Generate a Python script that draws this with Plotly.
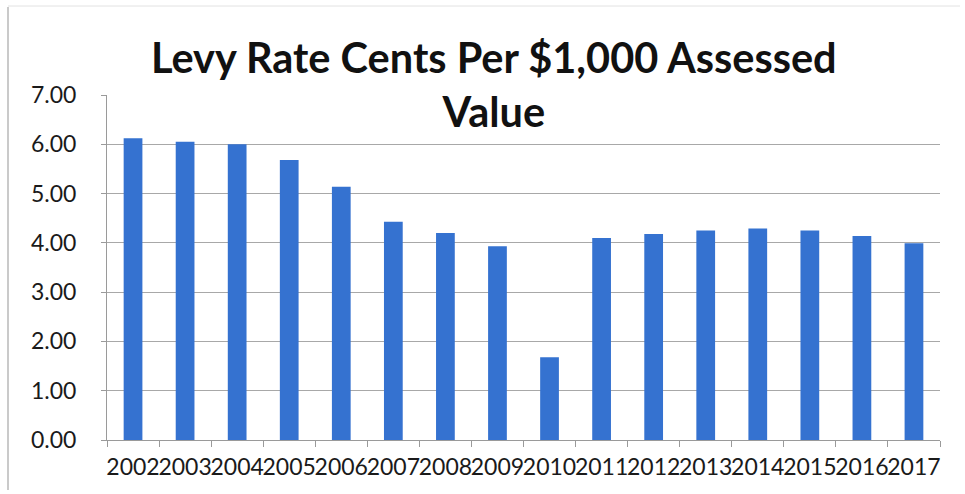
import plotly.graph_objects as go

years = ["2002", "2003", "2004", "2005", "2006", "2007", "2008", "2009",
         "2010", "2011", "2012", "2013", "2014", "2015", "2016", "2017"]
levy_rate = [6.12, 6.05, 6.00, 5.68, 5.14, 4.43, 4.20, 3.93,
             1.68, 4.10, 4.18, 4.25, 4.29, 4.25, 4.14, 3.99]
y_ticks = [0, 1, 2, 3, 4, 5, 6, 7]

title_text = "Levy Rate Cents Per $1,000 Assessed<br>Value"
font_family = "Lato, Carlito, Calibri, sans-serif"

# plot area in pixels: x 107..940, y 95..440
PW, PH = 833, 345

fig = go.Figure(
    go.Bar(
        x=years,
        y=levy_rate,
        marker=dict(color="#3572d0", line=dict(width=0)),
    )
)

fig.update_layout(
    width=965,
    height=494,
    margin=dict(l=107, r=25, t=95, b=54, autoexpand=False),
    paper_bgcolor="white",
    plot_bgcolor="white",
    bargap=0.64,
    showlegend=False,
    font=dict(family=font_family, color="#1a1a1a"),
    annotations=[
        dict(
            text=title_text,
            xref="paper", yref="paper",
            x=(494 - 107) / PW, xanchor="center",
            y=1 + (95 - 30) / PH, yanchor="top",
            showarrow=False,
            align="center",
            font=dict(family=font_family, size=41.5, color="#111111", weight="bold"),
        )
    ],
    shapes=[
        dict(type="line", xref="paper", yref="paper",
             x0=-99 / PW, x1=-99 / PW, y0=-50 / PH, y1=1 + 88 / PH,
             line=dict(color="#b8b8b8", width=1.5)),
        dict(type="line", xref="paper", yref="paper",
             x0=-99 / PW, x1=1 + 20 / PW, y0=1 + 89 / PH, y1=1 + 89 / PH,
             line=dict(color="#e2e2e2", width=1)),
    ],
)

fig.update_xaxes(
    type="category",
    automargin=False,
    tickangle=0,
    showline=True,
    linecolor="#9a9a9a",
    linewidth=1,
    ticks="outside",
    tickson="boundaries",
    ticklen=6,
    tickcolor="#9a9a9a",
    tickfont=dict(size=23, color="#1a1a1a"),
    ticklabelstandoff=6,
    showgrid=False,
)

fig.update_yaxes(
    automargin=False,
    range=[0, 7],
    tickvals=y_ticks,
    tickformat=".2f",
    showline=True,
    linecolor="#9a9a9a",
    linewidth=1,
    ticks="outside",
    ticklen=5,
    tickcolor="#9a9a9a",
    tickfont=dict(size=23, color="#1a1a1a"),
    ticklabelstandoff=20,
    showgrid=True,
    gridcolor="#a8a8a8",
    gridwidth=1,
    zeroline=False,
)

fig.write_html("out.html")
